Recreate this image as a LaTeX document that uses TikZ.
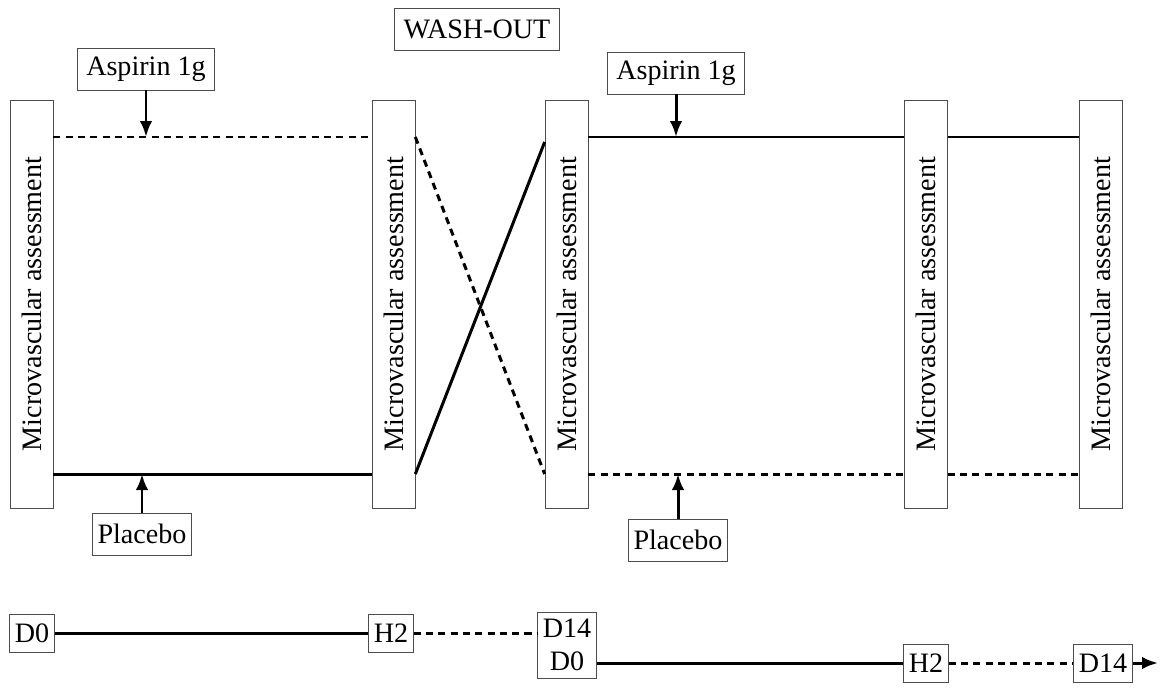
\documentclass[tikz,border=0pt]{standalone}
\usepackage{fontspec}
\setmainfont{Liberation Serif}
\usepackage{graphicx}
\usetikzlibrary{arrows.meta}
\tikzset{
  >={Latex[length=3.2mm,width=2.5mm]},
  assess/.style={draw=black!70,thin,fill=white,minimum width=0.86cm,
    minimum height=8.16cm,inner sep=0pt,font=\fontsize{16}{19}\selectfont},
  tag/.style={draw=black!70,thin,fill=white,inner xsep=5pt,minimum height=0.84cm,
    align=center,font=\fontsize{16}{19}\selectfont},
  day/.style={tag,inner xsep=3pt,minimum height=0.76cm},
  solid arm/.style={line width=1.7pt},
  dash arm/.style={line width=1.7pt,dash pattern=on 4pt off 3pt},
}
\begin{document}
\begin{tikzpicture}[x=0.02cm,y=-0.02cm]
  \useasboundingbox (0,0) rectangle (1162,687);
  % levels of the two arms
  \coordinate (top) at (0,137);
  \coordinate (bot) at (0,474);

  % assessment visits
  \node[assess] (m1) at (31.5,304) {\rotatebox{90}{Microvascular assessment}};
  \node[assess] (m2) at (393.5,304) {\rotatebox{90}{Microvascular assessment}};
  \node[assess] (m3) at (566.5,304) {\rotatebox{90}{Microvascular assessment}};
  \node[assess] (m4) at (926,304) {\rotatebox{90}{Microvascular assessment}};
  \node[assess] (m5) at (1101,304) {\rotatebox{90}{Microvascular assessment}};

  \node[tag] (wash) at (477,29) {WASH-OUT};
  \node[tag] (asp1) at (146,69) {Aspirin 1g};
  \node[tag] (asp2) at (676,73) {Aspirin 1g};
  \node[tag,inner xsep=3pt] (pl1) at (142,534) {Placebo};
  \node[tag,inner xsep=3pt] (pl2) at (678,540) {Placebo};

  % first period
  \draw[dash arm] (m1.east |- top) -- (m2.west |- top);
  \draw[solid arm] (m1.east |- bot) -- (m2.west |- bot);
  \draw[->,solid arm] (asp1.south) -- (asp1.south |- top);
  \draw[->,solid arm] (pl1.north) -- (pl1.north |- bot);

  % cross-over
  \draw[dash arm] (m2.east |- top) -- (m3.west |- bot);
  \draw[solid arm] (m2.east |- bot) -- ([yshift=-0.1cm]m3.west |- top);

  % second period
  \draw[solid arm] (m3.east |- top) -- (m4.west |- top);
  \draw[solid arm] (m4.east |- top) -- (m5.west |- top);
  \draw[dash arm] (m3.east |- bot) -- (m4.west |- bot);
  \draw[dash arm] (m4.east |- bot) -- (m5.west |- bot);
  \draw[->,solid arm] (asp2.south) -- (asp2.south |- top);
  \draw[->,solid arm] (pl2.north) -- (pl2.north |- bot);

  % time line
  \node[day] (d0) at (32,633) {D0};
  \node[day] (h2a) at (391,633) {H2};
  \node[day,inner ysep=4pt] (d14a) at (567,645) {D14\\D0};
  \node[day] (h2b) at (926,663) {H2};
  \node[day] (d14b) at (1103,663) {D14};
  \coordinate (tend) at (1158,663);

  \draw[solid arm] (d0) -- (h2a);
  \draw[dash arm] (h2a) -- (h2a -| d14a.west);
  \draw[solid arm] (h2b -| d14a.east) -- (h2b);
  \draw[dash arm] (h2b) -- (d14b);
  \draw[->,solid arm] (d14b) -- (tend);
\end{tikzpicture}
\end{document}
